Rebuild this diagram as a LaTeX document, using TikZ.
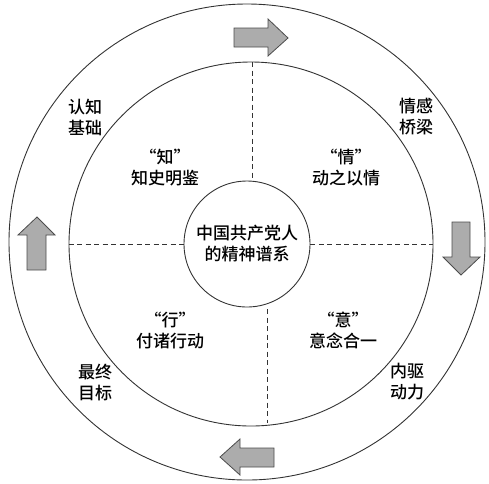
\documentclass[tikz,border=0pt]{standalone}
\usepackage{fontspec}
\setmainfont{Noto Sans CJK SC Medium}
\usepackage{tikz}
\usetikzlibrary{positioning}

\begin{document}
\begin{tikzpicture}[
  x=1pt, y=-1pt,
  ring/.style={draw=black!80, circle, line width=0.9pt, inner sep=0pt},
  divline/.style={draw=black!80, dash pattern=on 5pt off 3.5pt, line width=1pt},
  blockarrow/.style={fill=gray!65, draw=black!70, line width=0.8pt, line join=miter},
  cjktext/.style={font=\fontsize{17}{21}\selectfont, align=center, inner sep=0pt}
]
\useasboundingbox (0,0) rectangle (489,483);

%─── Rings ────────────────────────────────────────────────────────────────
\node[ring, minimum size=476pt] (outer) at (247,242) {};
\node[ring, minimum size=364pt] (mid) at (251,244) {};
\node[ring, minimum size=126pt, cjktext] (inner) at (247,244)
  {中国共产党人\\的精神谱系};

% dividers
\coordinate (dtop) at (252,62);
\coordinate (dtopin) at (252,181);
\coordinate (dbot) at (267,423);
\coordinate (dbotin) at (267,309);
\draw[divline] (dtop) -- (dtopin);
\draw[divline] (dbotin) -- (dbot);
\draw[divline] (mid.west) -- (inner.west);
\draw[divline] (inner.east) -- (mid.east);

%─── Quadrant texts ───────────────────────────────────────────────────────
\node[cjktext] (zhi)  at (165,168) {“知”\\知史明鉴};
\node[cjktext] (qing) at (346,168) {“情”\\动之以情};
\node[cjktext] (xing) at (170,330) {“行”\\付诸行动};
\node[cjktext] (yi)   at (343,330) {“意”\\意念合一};

%─── Outer ring texts ─────────────────────────────────────────────────────
\node[cjktext] (renzhi)   at (85,117)  {认知\\基础};
\node[cjktext] (qinggan)  at (416,117) {情感\\桥梁};
\node[cjktext] (zuizhong) at (95,382)  {最终\\目标};
\node[cjktext] (neiqu)    at (407,382) {内驱\\动力};

%─── Cycle arrows ─────────────────────────────────────────────────────────
% top, pointing right
\draw[blockarrow] (234,28) -- (268,28) -- (268,19) -- (288,38)
  -- (268,56) -- (268,47) -- (234,47) -- cycle;
% right, pointing down
\draw[blockarrow] (452,222) -- (470,222) -- (470,257) -- (480,257)
  -- (461,275) -- (443,257) -- (452,257) -- cycle;
% bottom, pointing left
\draw[blockarrow] (274,448) -- (240,448) -- (240,439) -- (220,457)
  -- (240,475) -- (240,467) -- (274,467) -- cycle;
% left, pointing up
\draw[blockarrow] (27,270) -- (27,235) -- (18,235) -- (37,217)
  -- (55,235) -- (46,235) -- (46,270) -- cycle;

\end{tikzpicture}
\end{document}
